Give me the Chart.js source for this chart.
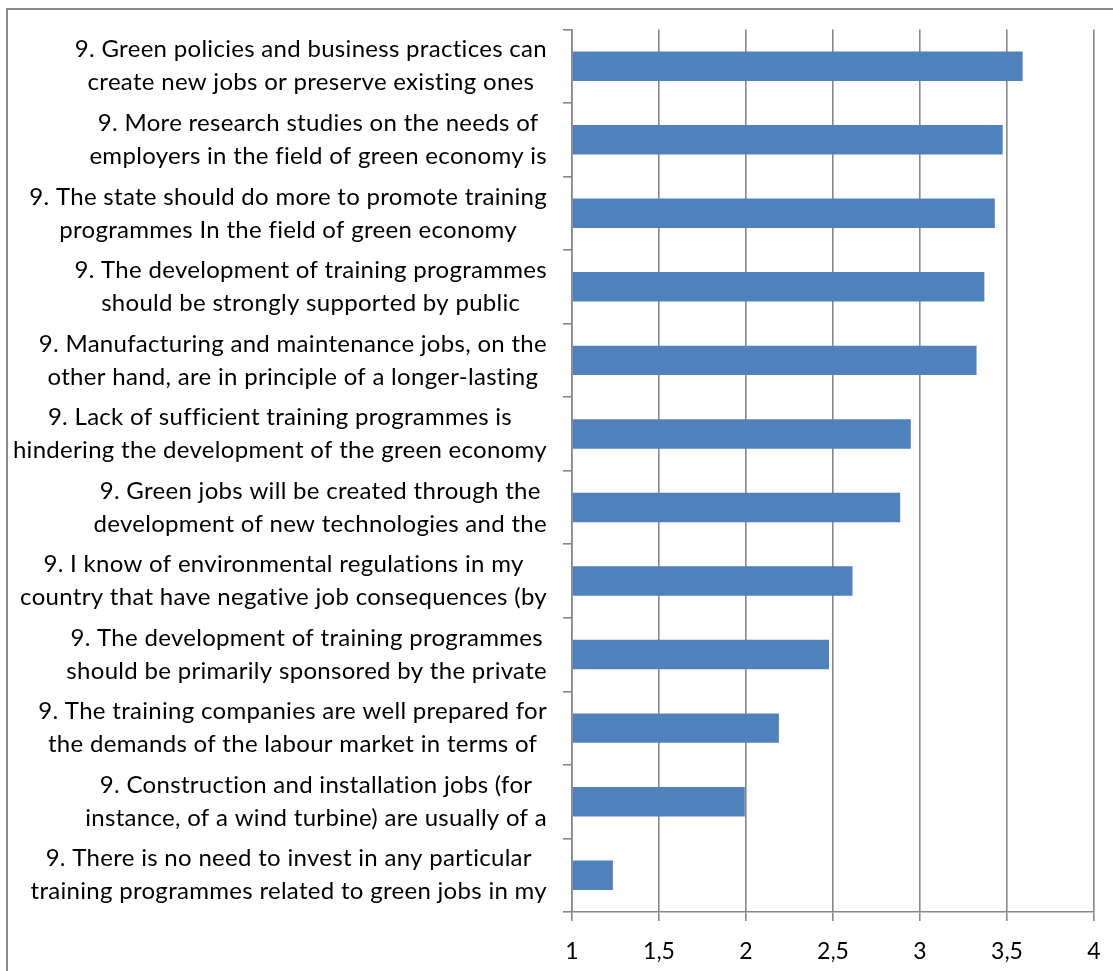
<!DOCTYPE html>
<html>
<head>
<meta charset="utf-8">
<script src="https://cdn.jsdelivr.net/npm/chart.js@4.4.0/dist/chart.umd.min.js"></script>
<style>
  html, body { margin: 0; padding: 0; background: #fff; }
  #frame {
    position: absolute; left: 6px; top: 8px; width: 1200px; height: 1100px;
    border-left: 2px solid #8a8a8a; border-top: 2px solid #8a8a8a;
  }
  #wrap { position: absolute; left: 0; top: 0; width: 1113px; height: 971px; }
</style>
</head>
<body>
<div id="frame"></div>
<div id="wrap"><canvas id="chart" width="1113" height="971"></canvas></div>
<script>
// categories (each one is two lines, as in the original)
const categories = [
  ["9. Green policies and business practices can", "create new jobs or preserve existing ones"],
  ["9. More research studies on the needs of", "employers in the field of green economy is"],
  ["9. The state should do more to promote training", "programmes In the field of green economy"],
  ["9. The development of training programmes", "should be strongly supported by public"],
  ["9. Manufacturing and maintenance jobs, on the", "other hand, are in principle of a longer-lasting"],
  ["9. Lack of sufficient training programmes is", "hindering the development of the green economy"],
  ["9. Green jobs will be created through the", "development of new technologies and the"],
  ["9. I know of environmental regulations in my", "country that have negative job consequences (by"],
  ["9. The development of training programmes", "should be primarily sponsored by the private"],
  ["9. The training companies are well prepared for", "the demands of the labour market in terms of"],
  ["9. Construction and installation jobs (for", "instance, of a wind turbine) are usually of a"],
  ["9. There is no need to invest in any particular", "training programmes related to green jobs in my"],
];

// mean scores
const values = [3.59, 3.475, 3.43, 3.37, 3.325, 2.947, 2.886, 2.612, 2.477, 2.189, 1.993, 1.235];

// x axis ticks
const xTicks = [1, 1.5, 2, 2.5, 3, 3.5, 4];

const FONT = "Lato, 'Liberation Sans', sans-serif";
const FONT_SIZE = 24;
const LINE_H = 33;

// category labels: block right-aligned, lines centred inside the block (Excel style)
const blockLabels = {
  id: "blockLabels",
  afterDraw(chart) {
    const { ctx } = chart;
    const y = chart.scales.y;
    ctx.save();
    ctx.font = FONT_SIZE + "px " + FONT;
    ctx.letterSpacing = "0.3px";
    ctx.fillStyle = "#000";
    ctx.textAlign = "center";
    ctx.textBaseline = "middle";
    const right = y.right - 9 - 16;
    categories.forEach((lines, i) => {
      const w = Math.max(...lines.map((l) => ctx.measureText(l).width));
      const cx = right - w / 2;
      const cy = y.getPixelForTick(i);
      lines.forEach((l, k) => {
        ctx.fillText(l, cx, cy + (k - (lines.length - 1) / 2) * LINE_H);
      });
    });
    ctx.restore();
  },
};

new Chart(document.getElementById("chart"), {
  type: "bar",
  data: {
    labels: categories,
    datasets: [{
      data: values,
      base: 1,
      backgroundColor: "#4F81BD",
      borderWidth: 0,
      barPercentage: 0.4,
      categoryPercentage: 1,
    }],
  },
  options: {
    indexAxis: "y",
    responsive: false,
    animation: false,
    layout: { padding: { left: 0, top: 27, right: 19, bottom: 0 } },
    plugins: { legend: { display: false }, tooltip: { enabled: false } },
    scales: {
      x: {
        min: 1,
        max: 4,
        afterBuildTicks: (scale) => { scale.ticks = xTicks.map((v) => ({ value: v })); },
        afterFit: (scale) => {
          scale.height = 59;
          scale.paddingLeft = 0;
          scale.paddingRight = 0;
        },
        grid: { color: "#878787", lineWidth: 1.6, tickLength: 9 },
        border: { color: "#878787", width: 1.6 },
        ticks: {
          color: "#000",
          padding: 17,
          font: { family: FONT, size: 23 },
          callback: (v) => String(v).replace(".", ","),
        },
      },
      y: {
        afterFit: (scale) => { scale.width = 572; },
        grid: { drawOnChartArea: false, color: "#878787", lineWidth: 1.6, tickLength: 9 },
        border: { color: "#878787", width: 1.6 },
        ticks: { color: "rgba(0,0,0,0)", font: { family: FONT, size: 22 } },
      },
    },
  },
  plugins: [blockLabels],
});
</script>
</body>
</html>
